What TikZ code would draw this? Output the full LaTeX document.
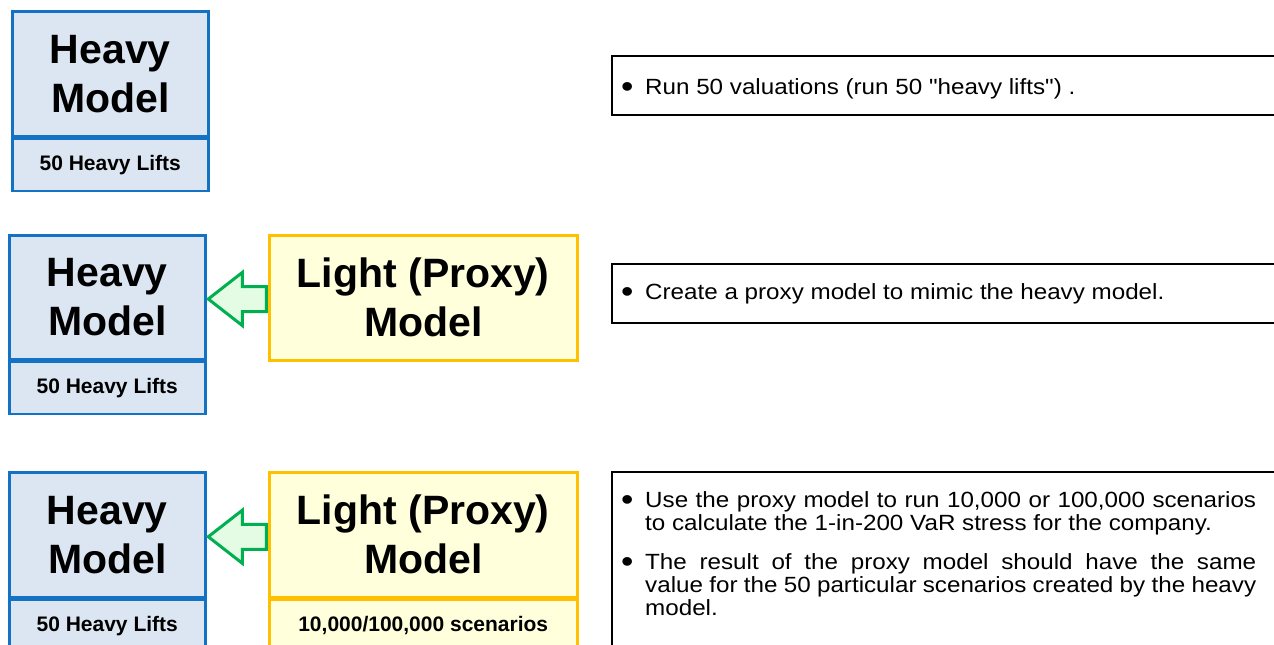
\documentclass[tikz,border=0pt]{standalone}
\usepackage{fontspec}
\setmainfont{Liberation Sans}
\newfontfamily\bodyfont[FakeStretch=1.1]{Liberation Sans}
\usetikzlibrary{calc}
\definecolor{hvfill}{HTML}{DCE6F2}
\definecolor{hvline}{HTML}{1472C4}
\definecolor{ltfill}{HTML}{FFFFDC}
\definecolor{ltline}{HTML}{FFC000}
\definecolor{arline}{HTML}{00B050}
\definecolor{arfill}{HTML}{E3FCE3}
\newcommand{\bigdot}{\raisebox{-3.2pt}{\fontsize{32}{23}\selectfont\textbullet}}
\newenvironment{bulletlist}{\begin{list}{\makebox[0pt][c]{\bigdot}}{%
  \setlength\leftmargin{18pt}\setlength\labelwidth{0pt}\setlength\labelsep{18pt}%
  \setlength\itemsep{16pt}\setlength\parsep{0pt}\setlength\topsep{0pt}%
  \setlength\partopsep{0pt}\setlength\itemindent{0pt}}}{\end{list}}
\begin{document}
\begin{tikzpicture}[x=1pt,y=-1pt,
  heavybox/.style={draw=hvline, fill=hvfill, line width=2.5pt, rectangle,
    inner sep=0pt, anchor=north west, align=center, minimum width=196pt},
  lightbox/.style={draw=ltline, fill=ltfill, line width=2.5pt, rectangle,
    inner sep=0pt, anchor=north west, align=center, minimum width=308pt},
  bigtxt/.style={font=\fontsize{41}{49}\selectfont\bfseries},
  smalltxt/.style={font=\fontsize{21}{25}\selectfont\bfseries},
  notebox/.style={draw=black, line width=1.6pt, rectangle, inner sep=0pt,
    anchor=north west, minimum width=700pt},
  notetext/.style={anchor=base west, inner sep=0pt,
    font=\bodyfont\fontsize{22}{23}\selectfont},
  blockarrow/.style={draw=arline, fill=arfill, line width=3pt, line join=miter}
]
\useasboundingbox (0,0) rectangle (1274,645);
\clip (0,0) rectangle (1274,645);

% row 1
\node[heavybox, bigtxt, minimum height=125pt] (h1t) at (11,10) {Heavy\\Model};
\node[heavybox, smalltxt, minimum height=52pt] (h1b) at (h1t.south west) {50 Heavy Lifts};
\node[notebox, minimum height=59pt] (n1) at (611,55) {};
\node[notetext] (t1) at ($(n1.north west)+(16,39.5)$) {\begin{minipage}[t]{629pt}\begin{bulletlist}
\item \strut Run 50 valuations (run 50 "heavy lifts") .
\end{bulletlist}\end{minipage}};

% row 2
\node[heavybox, bigtxt, minimum height=124pt] (h2t) at (8,234) {Heavy\\Model};
\node[heavybox, smalltxt, minimum height=52pt] (h2b) at (h2t.south west) {50 Heavy Lifts};
\node[lightbox, bigtxt, minimum height=125pt] (l2) at (268,234) {Light (Proxy)\\Model};
\node[notebox, minimum height=59pt] (n2) at (611,263) {};
\node[notetext] (t2) at ($(n2.north west)+(16,36)$) {\begin{minipage}[t]{629pt}\begin{bulletlist}
\item \strut Create a proxy model to mimic the heavy model.
\end{bulletlist}\end{minipage}};
\coordinate (c2) at ($(h2t.east)!0.5!(l2.west)+(0,1.5)$);
\draw[blockarrow] ($(c2)+(-29,0)$) -- ++(34,-26.5) -- ++(0,14) -- ++(24,0)
  -- ++(0,25) -- ++(-24,0) -- ++(0,14) -- cycle;

% row 3
\node[heavybox, bigtxt, minimum height=125pt] (h3t) at (8,471) {Heavy\\Model};
\node[heavybox, smalltxt, minimum height=52pt] (h3b) at (h3t.south west) {50 Heavy Lifts};
\node[lightbox, bigtxt, minimum height=125pt] (l3t) at (268,471) {Light (Proxy)\\Model};
\node[lightbox, smalltxt, minimum height=52pt] (l3b) at (l3t.south west) {10,000/100,000 scenarios};
\node[notebox, minimum height=185pt] (n3) at (611,471) {};
\node[notetext] (t3) at ($(n3.north west)+(16,36)$) {\begin{minipage}[t]{629pt}\begin{bulletlist}
\item \strut Use the proxy model to run 10,000 or 100,000 scenarios\linebreak to calculate the 1-in-200 VaR stress for the company.
\item \strut The result of the proxy model should have the same\linebreak value for the 50 particular scenarios created by the heavy\linebreak model.
\end{bulletlist}\end{minipage}};
\coordinate (c3) at ($(h3t.east)!0.5!(l3t.west)+(0,2)$);
\draw[blockarrow] ($(c3)+(-29,0)$) -- ++(34,-26.5) -- ++(0,14) -- ++(24,0)
  -- ++(0,25) -- ++(-24,0) -- ++(0,14) -- cycle;
\end{tikzpicture}
\end{document}
